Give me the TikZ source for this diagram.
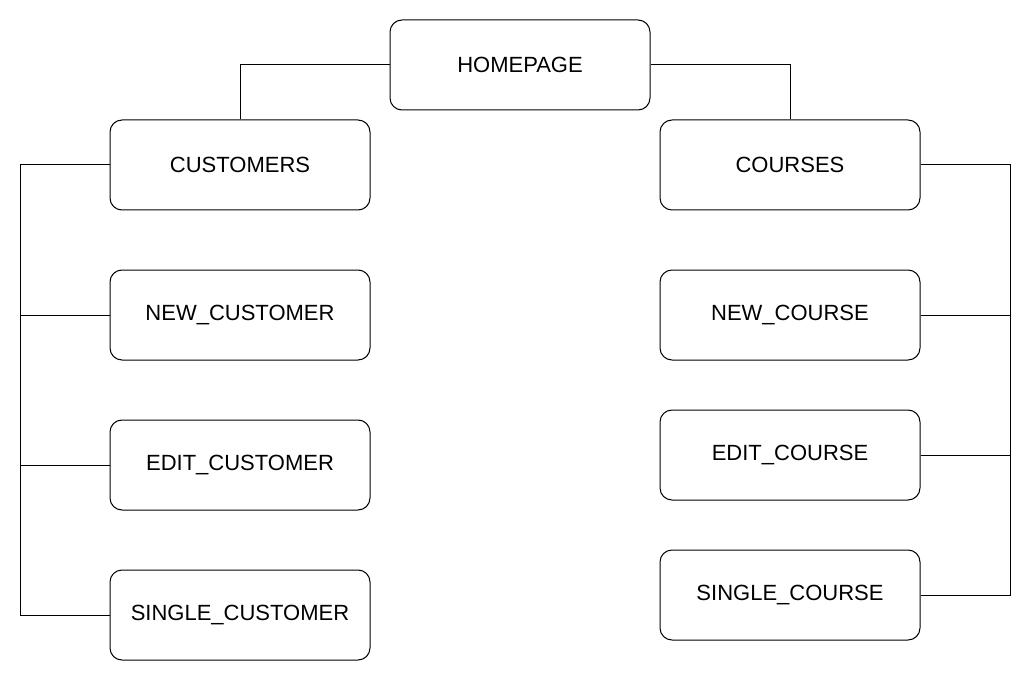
\documentclass[tikz,border=0pt]{standalone}
\usepackage{fontspec}
\setmainfont{Liberation Sans}
\begin{document}
\begin{tikzpicture}[x=0.75pt,y=-0.75pt,
  pagebox/.style={draw=black,line width=0.75pt,rounded corners=9pt,minimum width=195pt,minimum height=67.5pt,inner sep=0pt,font=\fontsize{16.5}{19}\selectfont,fill=white},
  link/.style={draw=black,line width=0.75pt}]
\useasboundingbox[fill=white] (0,0) rectangle (1032,681);
\node[pagebox] (home) at (520,65) {HOMEPAGE};
\node[pagebox] (cust) at (240,165) {CUSTOMERS};
\node[pagebox] (cour) at (790,165) {COURSES};
\node[pagebox] (ncust) at (240,315) {NEW\_CUSTOMER};
\node[pagebox] (ecust) at (240,465) {EDIT\_CUSTOMER};
\node[pagebox] (scust) at (240,615) {SINGLE\_CUSTOMER};
\node[pagebox] (ncour) at (790,315) {NEW\_COURSE};
\node[pagebox] (ecour) at (790,455) {EDIT\_COURSE};
\node[pagebox] (scour) at (790,595) {SINGLE\_COURSE};
\coordinate (lt) at (20,165);
\coordinate (lb) at (20,615);
\coordinate (rt) at (1010,165);
\coordinate (rb) at (1010,595);
\draw[link] (home.west) -| (cust.north);
\draw[link] (home.east) -| (cour.north);
\draw[link] (cust.west) -- (lt) -- (lb) -- (scust.west);
\draw[link] (ncust.west) -- (ncust.west -| lt);
\draw[link] (ecust.west) -- (ecust.west -| lt);
\draw[link] (cour.east) -- (rt) -- (rb) -- (scour.east);
\draw[link] (ncour.east) -- (ncour.east -| rt);
\draw[link] (ecour.east) -- (ecour.east -| rt);
\end{tikzpicture}
\end{document}
